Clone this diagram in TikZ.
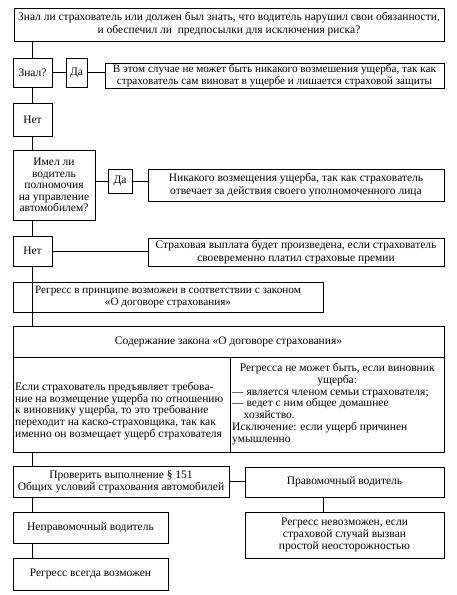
\documentclass[tikz,border=0pt]{standalone}
\usepackage{fontspec}
\setmainfont{Liberation Serif}
\begin{document}
\begin{tikzpicture}[x=1pt,y=-1pt,
  box/.style={draw,line width=1pt,inner sep=0pt,align=center,font=\fontsize{11.5}{12.3}\selectfont},
  conn/.style={line width=1pt},
  txt/.style={inner sep=0pt,font=\fontsize{11.5}{11.8}\selectfont}]
\useasboundingbox (0,0) rectangle (457,595);
% boxes
\node[box,minimum width=430,minimum height=33,font=\fontsize{11.5}{13}\selectfont] (q1) at (229,24.5)
  {Знал ли страхователь или должен был знать, что водитель нарушил свои обязанности,\\ и обеспечил ли\ \ предпосылки для исключения риска?};
\node[box,minimum width=39,minimum height=29] (znal) at (32.5,72.5) {Знал?};
\node[box,minimum width=21,minimum height=29] (da1) at (76.5,72.5) {Да};
\node[box,minimum width=339,minimum height=25,font=\fontsize{11.2}{11.8}\selectfont] (r1) at (274.5,75.5)
  {В этом случае не может быть никакого возмешения ущерба, так как\\ страхователь сам виноват в ущербе и лишается страховой защиты};
\node[box,minimum width=39,minimum height=33] (net1) at (32.5,119.5) {Нет};
\node[box,minimum width=82,minimum height=70,font=\fontsize{11.5}{11.6}\selectfont] (q2) at (54,185)
  {Имел ли\\ водитель\\ полномочия\\ на управление\\ автомобилем?};
\node[box,minimum width=24,minimum height=24] (da2) at (120,181) {Да};
\node[box,minimum width=296,minimum height=32] (r2) at (296,185)
  {Никакого возмещения ущерба, так как страхователь\\ отвечает за действия своего уполномоченного лица};
\node[box,minimum width=39,minimum height=30] (net2) at (32.5,251) {Нет};
\node[box,minimum width=296,minimum height=28] (r3) at (296,252)
  {Страховая выплата будет произведена, если страхователь\\ своевременно платил страховые премии};
\node[box,minimum width=310,minimum height=30,font=\fontsize{11.2}{12}\selectfont] (reg1) at (168,297)
  {Регресс в принципе возможен в соответствии с законом\\ «О договоре страхования»};
% law table
\node[box,minimum width=431,minimum height=126] (law) at (228.5,389) {};
\coordinate (hl) at (13,357);
\coordinate (hr) at (444,357);
\coordinate (dt) at (230,357);
\coordinate (db) at (230,452);
\draw[conn] (hl) -- (hr);
\draw[conn] (dt) -- (db);
\node[txt] (lawh) at (228.5,341.5) {Содержание закона «О договоре страхования»};
\node[txt,anchor=west,align=left] (lawl) at (15,411)
  {Если страхователь предъявляет требова-\\ние на возмещение ущерба по отношению\\ к виновнику ущерба, то это требование\\ переходит на каско-страховщика, так как\\ именно он возмещает ущерб страхователя};
\node[txt,anchor=north west,align=left] (lawr) at (232,363)
  {\makebox[210pt][c]{Регресса не может быть, если виновник}\\
   \makebox[210pt][c]{ущерба:}\\
   — является членом семьи страхователя;\\
   — ведет с ним общее домашнее\\
   \hspace*{1em}хозяйство.\\
   Исключение: если ущерб причинен\\
   умышленно};
\node[box,minimum width=216,minimum height=31] (check) at (121,481.5)
  {Проверить выполнение § 151\\ Общих условий страхования автомобилей};
\node[box,minimum width=199,minimum height=30] (prav) at (344.5,482) {Правомочный водитель};
\node[box,minimum width=199,minimum height=46] (nevoz) at (344.5,535)
  {Регресс невозможен, если\\ страховой случай вызван\\ простой неосторожностью};
\node[box,minimum width=155,minimum height=31] (neprav) at (90.5,527.5) {Неправомочный водитель};
\node[box,minimum width=155,minimum height=32] (vsegda) at (90.5,574) {Регресс всегда возможен};
% connectors
\draw[conn] (q1.south -| znal) -- (znal.north);
\draw[conn] (znal.south) -- (net1.north);
\draw[conn] (net1.south) -- (q2.north -| net1);
\draw[conn] (q2.south -| net2) -- (net2.north);
\draw[conn] (net2.south) -- (reg1.south -| net2) ;
\draw[conn] (reg1.south -| net2) -- (law.north -| net2);
\draw[conn] (law.south -| net2) -- (check.north -| net2);
\draw[conn] (check.south -| net2) -- (neprav.north -| net2);
\draw[conn] (neprav.south -| net2) -- (vsegda.north -| net2);
\draw[conn] (znal.east) -- (da1.west);
\draw[conn] (da1.east) -- (da1.east -| r1.west);
\draw[conn] (q2.east |- da2.west) -- (da2.west);
\draw[conn] (da2.east) -- (da2.east -| r2.west);
\draw[conn] (net2.east) -- (net2.east -| r3.west);
\draw[conn] (check.east) -- (check.east -| prav.west);
\draw[conn] (prav.south -| reg1.east) -- (nevoz.north -| reg1.east);
\end{tikzpicture}
\end{document}
